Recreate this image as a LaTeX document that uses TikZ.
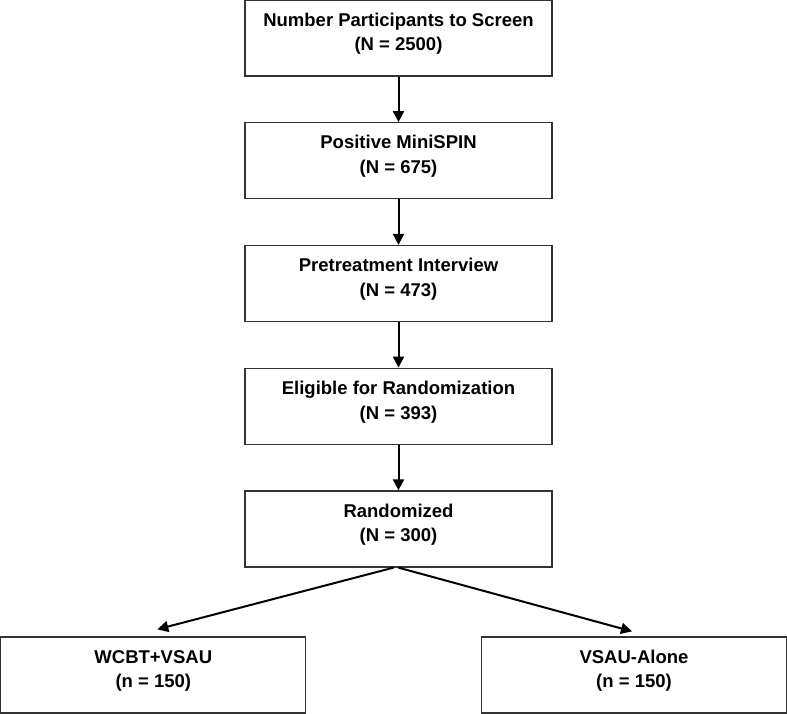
\documentclass[tikz,border=0pt]{standalone}
\usepackage{fontspec}
\setmainfont{Liberation Sans}
\usetikzlibrary{calc,arrows.meta}

\newcommand{\twolines}[2]{\rule{0pt}{14pt}#1\\#2\rule[-13pt]{0pt}{13pt}}

\tikzset{
    stage/.style={draw=black!80, line width=1.3pt, rectangle, inner sep=0pt,
        minimum width=307pt, minimum height=76pt, align=center,
        font=\fontsize{18.5}{24.7}\selectfont\bfseries},
    arm/.style={stage, minimum width=305pt},
    flow/.style={line width=2pt, -{Triangle[length=11pt,width=11pt]}}
}

\begin{document}
\begin{tikzpicture}[x=1pt,y=1pt]
            \useasboundingbox (0,0) rectangle (787,-714);

            \node (screen) at (398.5,-38) [stage] {\twolines{Number Participants to Screen}{(N = 2500)}};
            \node (minispin) at ($(screen) + (0,-122.75)$) [stage] {\twolines{Positive MiniSPIN}{(N = 675)}};
            \node (interview) at ($(minispin) + (0,-122.75)$) [stage] {\twolines{Pretreatment Interview}{(N = 473)}};
            \node (eligible) at ($(interview) + (0,-122.75)$) [stage] {\twolines{Eligible for Randomization}{(N = 393)}};
            \node (random) at ($(eligible) + (0,-122.75)$) [stage] {\twolines{Randomized}{(N = 300)}};

            \node (wcbt) at (153.3,-675) [arm] {\twolines{WCBT+VSAU}{(n = 150)}};
            \node (vsau) at ($(wcbt) + (480.7,0)$) [arm] {\twolines{VSAU-Alone}{(n = 150)}};

            \foreach \a/\b in {screen/minispin, minispin/interview, interview/eligible, eligible/random}
                {
                    \draw [flow] (\a.south) -- (\b.north);
                }

                \draw [flow] ($(random.south) + (-5,0)$) -- ($(wcbt.north) + (4,7)$);
                \draw [flow] (random.south) -- ($(vsau.north) + (-2,5)$);

        \end{tikzpicture}
\end{document}
